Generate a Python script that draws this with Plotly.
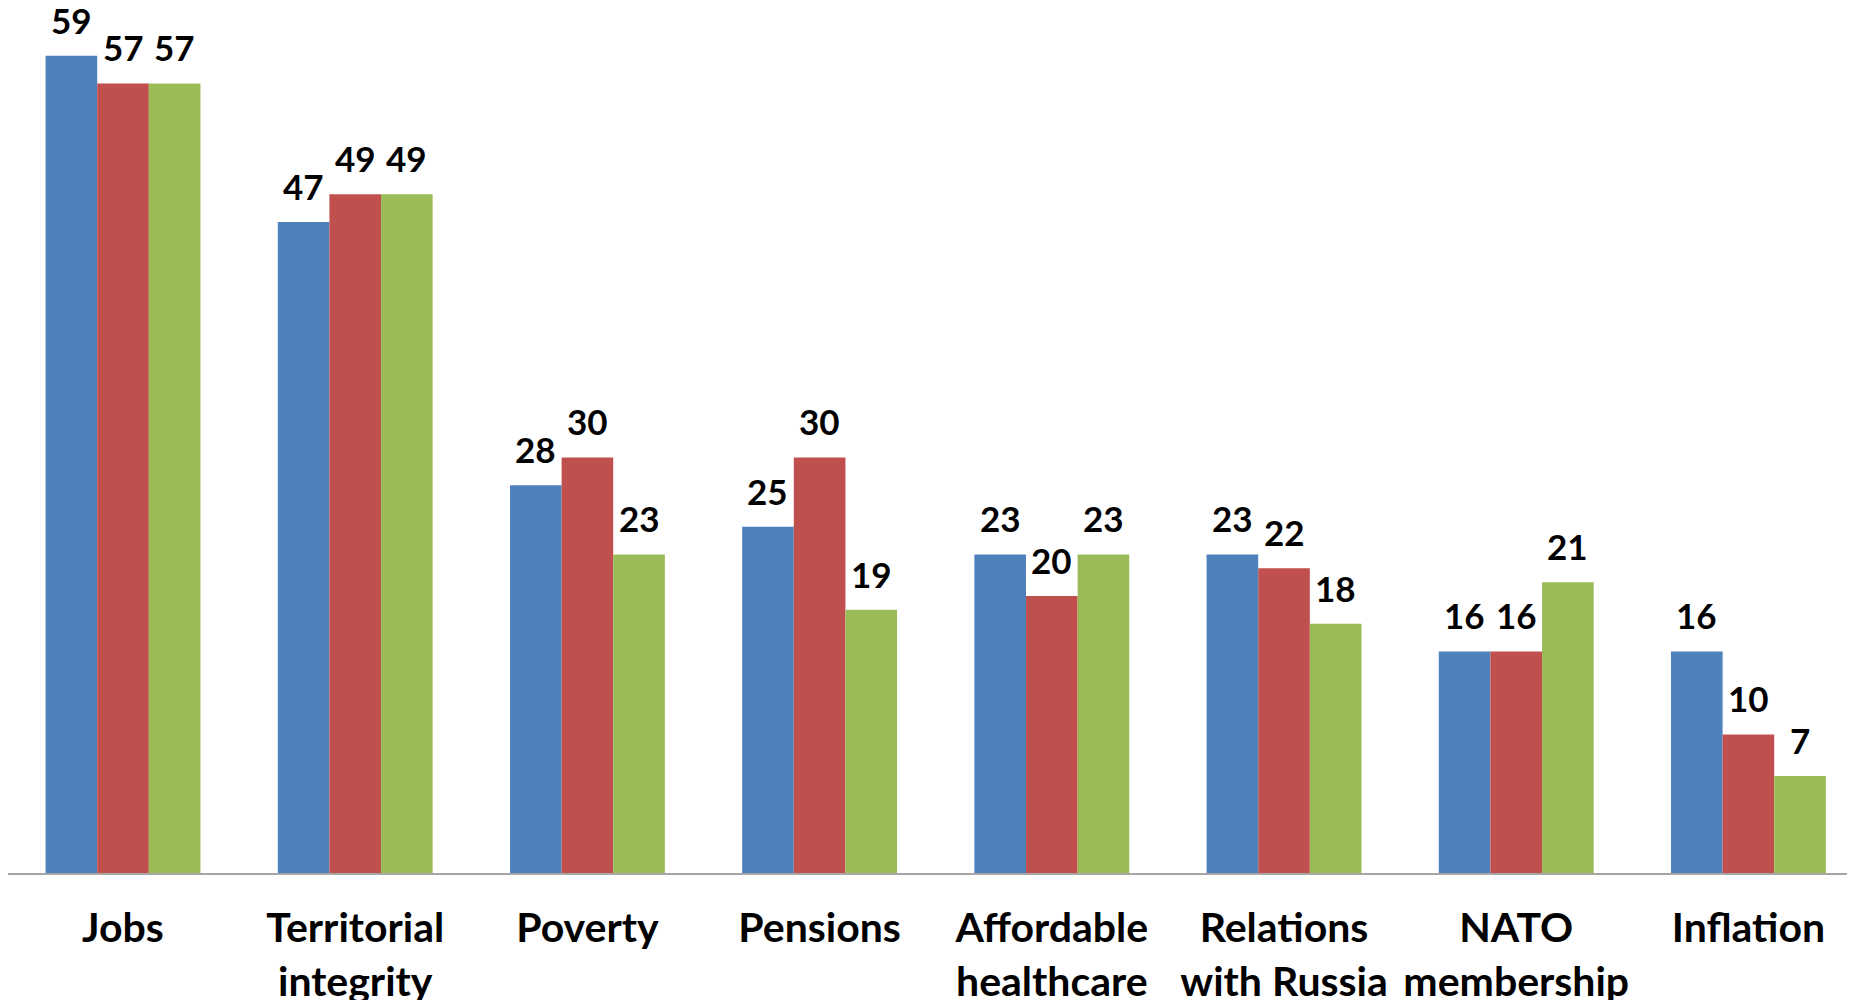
import plotly.graph_objects as go

categories = ["Jobs", "Territorial<br>integrity", "Poverty", "Pensions",
              "Affordable<br>healthcare", "Relations<br>with Russia",
              "NATO<br>membership", "Inflation"]
series_a = [59, 47, 28, 25, 23, 23, 16, 16]
series_b = [57, 49, 30, 30, 20, 22, 16, 10]
series_c = [57, 49, 23, 19, 23, 18, 21, 7]

colors = ["#4F81BD", "#C0504D", "#9BBB59"]
FONT = "Lato"
BARGAP = 0.333
n_series = 3
bar_w = (1 - BARGAP) / n_series

fig = go.Figure()
annotations = []
for k, (vals, col) in enumerate(zip([series_a, series_b, series_c], colors)):
    xs = list(range(len(categories)))
    fig.add_trace(go.Bar(
        x=xs, y=vals,
        marker=dict(color=col, line=dict(width=0)),
    ))
    off = (k - (n_series - 1) / 2) * bar_w
    for xi, v in zip(xs, vals):
        annotations.append(dict(
            x=xi + off, y=v, xref="x", yref="y", text=str(v), showarrow=False,
            yanchor="bottom", xanchor="center", yshift=13,
            font=dict(family=FONT, size=35, color="black", weight="bold"),
        ))

# page body has an 8px margin, so the figure is sized 8px smaller
fig.update_layout(
    width=1847, height=992,
    margin=dict(l=0, r=0, t=0, b=127),
    barmode="group", bargap=BARGAP, bargroupgap=0,
    showlegend=False,
    plot_bgcolor="white", paper_bgcolor="white",
    annotations=annotations,
    xaxis=dict(
        tickmode="array", tickvals=list(range(len(categories))), ticktext=categories,
        range=[-0.4953, 7.459], showline=True, linecolor="#A6A6A6", linewidth=2,
        showgrid=False, zeroline=False, ticks="", automargin=False,
        ticklabelstandoff=18,
        tickfont=dict(family=FONT, size=41, color="black", weight="bold"),
    ),
    yaxis=dict(range=[0, 62.45], visible=False, showgrid=False, zeroline=False,
               automargin=False),
)
fig.write_html("out.html")
